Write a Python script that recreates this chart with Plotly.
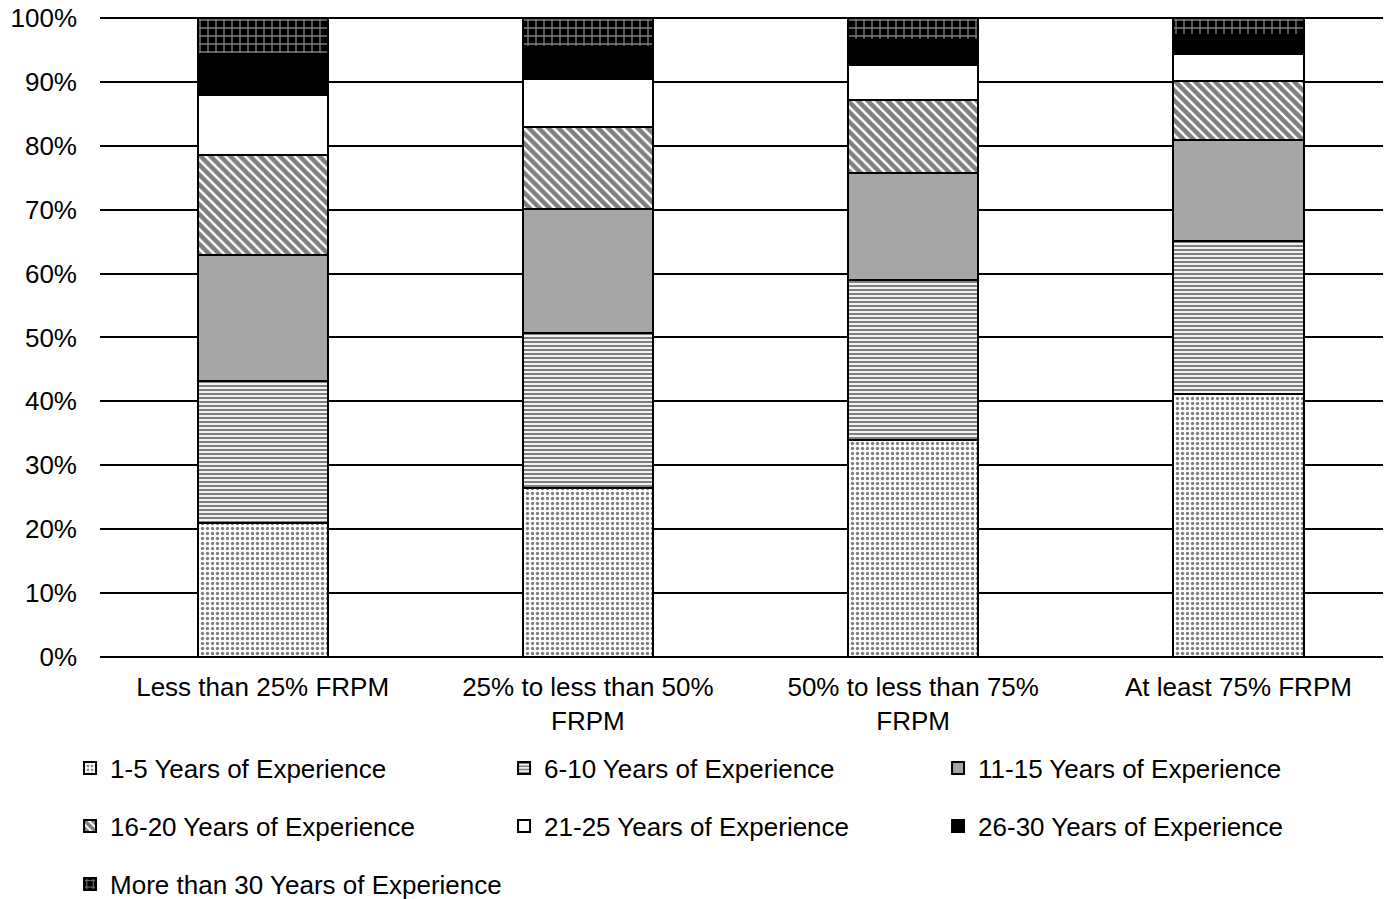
import plotly.graph_objects as go

categories = ["Less than 25% FRPM", "25% to less than 50%<br>FRPM",
              "50% to less than 75%<br>FRPM", "At least 75% FRPM"]

series_names = ["1-5 Years of Experience", "6-10 Years of Experience",
                "11-15 Years of Experience", "16-20 Years of Experience",
                "21-25 Years of Experience", "26-30 Years of Experience",
                "More than 30 Years of Experience"]

yrs_1_5 = [21.0, 26.4, 34.0, 41.2]
yrs_6_10 = [22.2, 24.3, 25.0, 23.9]
yrs_11_15 = [19.7, 19.4, 16.8, 15.8]
yrs_16_20 = [15.7, 12.9, 11.4, 9.3]
yrs_21_25 = [9.4, 7.5, 5.4, 4.1]
yrs_26_30 = [6.3, 4.9, 4.0, 3.0]
yrs_30_plus = [5.7, 4.6, 3.4, 2.7]

tick_vals = [0, 10, 20, 30, 40, 50, 60, 70, 80, 90, 100]
tick_text = [f"{v}%" for v in tick_vals]

values = [yrs_1_5, yrs_6_10, yrs_11_15, yrs_16_20, yrs_21_25, yrs_26_30, yrs_30_plus]

styles = [
    dict(color="white", pattern=dict(shape=".", fgcolor="black", bgcolor="white", size=5, solidity=0.35, fillmode="overlay")),
    dict(color="white", pattern=dict(shape="-", fgcolor="black", bgcolor="white", size=4, solidity=0.55, fillmode="overlay")),
    dict(color="#A6A6A6"),
    dict(color="white", pattern=dict(shape="\\", fgcolor="black", bgcolor="white", size=7, solidity=0.65, fillmode="overlay")),
    dict(color="white"),
    dict(color="black"),
    dict(color="black", pattern=dict(shape="+", fgcolor="white", bgcolor="black", size=8, solidity=0.3, fillmode="overlay")),
]
legend_ids = ["legend", "legend", "legend", "legend2", "legend2", "legend2", "legend3"]

fig = go.Figure()
xpos = list(range(len(categories)))
for name, vals, st, lg in zip(series_names, values, styles, legend_ids):
    marker = dict(line=dict(color="black", width=2), **st)
    fig.add_trace(go.Bar(x=xpos, y=vals, name=name, marker=marker, width=0.4,
                         legend=lg, hoverinfo="skip"))

FONT = "Liberation Sans, Arial, sans-serif"
FS = 26
leg_common = dict(orientation="h", font=dict(family=FONT, size=FS, color="black"),
                  entrywidth=389, entrywidthmode="pixels", traceorder="normal",
                  bgcolor="rgba(0,0,0,0)", borderwidth=0, xanchor="left", yanchor="middle",
                  x=-0.0232)

fig.update_layout(
    width=1383, height=891,
    margin=dict(l=92, r=0, t=8, b=242, autoexpand=False),
    barmode="stack",
    plot_bgcolor="white", paper_bgcolor="white",
    font=dict(family=FONT, size=FS, color="black"),
    showlegend=True,
    legend=dict(y=-0.1732, **leg_common),
    legend2=dict(y=-0.2637, **leg_common),
    legend3=dict(y=-0.3541, **leg_common),
    xaxis=dict(range=[-0.5, 3.469], tickvals=xpos, ticktext=categories,
               showgrid=False, showline=False, zeroline=False, ticks="",
               ticklabelstandoff=12, automargin=False,
               tickfont=dict(family=FONT, size=FS, color="black")),
    yaxis=dict(range=[0, 100.3], tickvals=tick_vals, ticktext=tick_text,
               showgrid=True, gridcolor="black", gridwidth=1.5,
               zeroline=True, zerolinecolor="black", zerolinewidth=2,
               showline=False, ticks="", ticklabelstandoff=22, automargin=False,
               ticklabeloverflow="allow",
               tickfont=dict(family=FONT, size=FS, color="black")),
)

fig.write_html("out.html", config={"displayModeBar": False})
